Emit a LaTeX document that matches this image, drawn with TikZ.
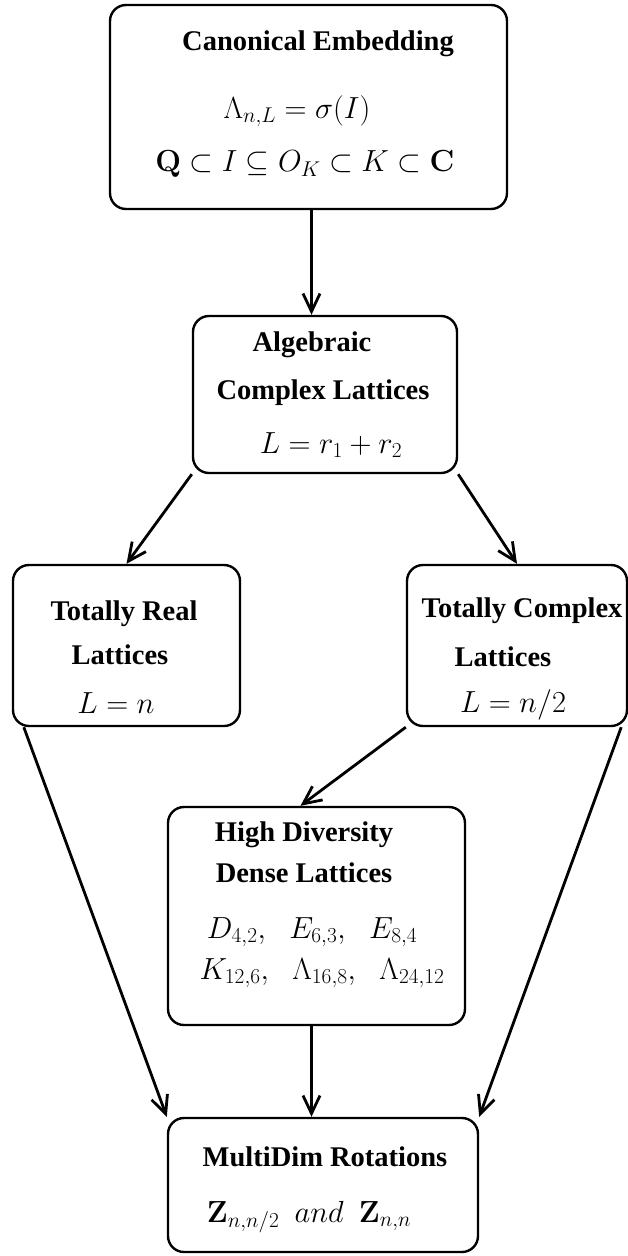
\documentclass[tikz,border=0pt]{standalone}
\usepackage{fix-cm}
\usepackage[no-math]{fontspec}
\newfontfamily\lbfont{Liberation Serif}
\usetikzlibrary{arrows.meta}
\tikzset{
  lbox/.style={draw, line width=2.4pt, rounded corners=16pt, inner sep=0pt},
  ttl/.style={font=\lbfont\bfseries\fontsize{28.5}{34}\selectfont, inner sep=0pt},
  mth/.style={font=\fontsize{30.5}{36}\selectfont, inner sep=0pt},
  arr/.style={line width=2.8pt, -{Straight Barb[length=18pt,width=17pt]}}
}
\begin{document}
\begin{tikzpicture}[x=1pt, y=-1pt]
    \useasboundingbox (0,0) rectangle (628,1256);
    % Kaestchen
    \node[lbox, minimum width=397pt, minimum height=204pt] (emb) at (308.5,107) {};
    \node[lbox, minimum width=264pt, minimum height=157pt] (alg) at (325,394.5) {};
    \node[lbox, minimum width=227pt, minimum height=161pt] (real) at (126.5,645.5) {};
    \node[lbox, minimum width=220pt, minimum height=161pt] (cplx) at (517,645.5) {};
    \node[lbox, minimum width=297pt, minimum height=218pt] (hd) at (316.5,916) {};
    \node[lbox, minimum width=310pt, minimum height=134pt] (rot) at (323,1185) {};
    % Texte
    \node[ttl] (embA) at (318,44) {Canonical Embedding};
    \node[mth] (embB) at (297,111) {$\Lambda_{n,L}=\sigma(I)$};
    \node[mth] (embC) at (305,164) {$\mathbf{Q}\subset I\subseteq O_K\subset K\subset\mathbf{C}$};
    \node[ttl] (algA) at (312,345) {Algebraic};
    \node[ttl] (algB) at (323,393) {Complex Lattices};
    \node[mth] (algC) at (331,445) {$L=r_1+r_2$};
    \node[ttl] (realA) at (124,614) {Totally Real};
    \node[ttl] (realB) at (120,655) {Lattices};
    \node[mth] (realC) at (116,703) {$L=n$};
    \node[ttl] (cplxA) at (522,611) {Totally Complex};
    \node[ttl] (cplxB) at (503,657) {Lattices};
    \node[mth] (cplxC) at (513,705) {$L=n/2$};
    \node[ttl] (hdA) at (304,835) {High Diversity};
    \node[ttl] (hdB) at (304,873) {Dense Lattices};
    \node[mth] (hdC) at (312,932) {$D_{4,2},\ \ E_{6,3},\ \ E_{8,4}$};
    \node[mth] (hdD) at (322,973) {$K_{12,6},\ \ \Lambda_{16,8},\ \ \Lambda_{24,12}$};
    \node[ttl] (rotA) at (325,1157) {MultiDim Rotations};
    \node[mth] (rotB) at (309,1217) {$\mathbf{Z}_{n,n/2}\enspace and\enspace\mathbf{Z}_{n,n}$};
    % Pfeile
    \draw[arr] ([xshift=3pt]emb.south) -- ([xshift=3pt]emb.south |- alg.north);
    \draw[arr] (alg.south west) -- (real.north);
    \draw[arr] (alg.south east) -- (cplx.north);
    \draw[arr] (cplx.south west) -- ([xshift=-16pt]hd.north);
    \draw[arr] ([xshift=-5pt]hd.south) -- ([xshift=-5pt]hd.south |- rot.north);
    \draw[arr] ([xshift=12pt]real.south west) -- (rot.north west);
    \draw[arr] ([xshift=-7pt]cplx.south east) -- (rot.north east);
\end{tikzpicture}
\end{document}
